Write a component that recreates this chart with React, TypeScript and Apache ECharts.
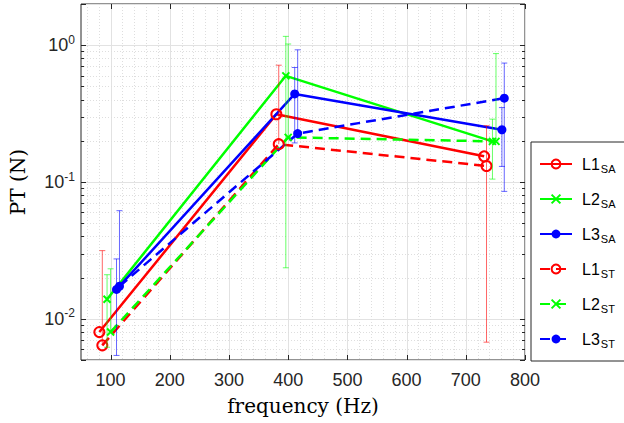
import React, { useEffect, useRef } from "react";
import * as echarts from "echarts";

// ---- axis extents and ticks ----
const xMin = 50;
const xMax = 800;
const xMajorTicks = [100, 200, 300, 400, 500, 600, 700, 800];
const xMinorTicks = [60, 80, 120, 140, 160, 180, 220, 240, 260, 280, 320, 340, 360, 380, 420, 440, 460, 480, 520, 540, 560, 580, 620, 640, 660, 680, 720, 740, 760, 780];
const yMin = 0.005;
const yMax = 2;
const yMinorTicks = [
  0.006, 0.007, 0.008, 0.009,
  0.02, 0.03, 0.04, 0.05, 0.06, 0.07, 0.08, 0.09,
  0.2, 0.3, 0.4, 0.5, 0.6, 0.7, 0.8, 0.9,
];

// ---- series ----
const seriesNames = ["L1SA", "L2SA", "L3SA", "L1ST", "L2ST", "L3ST"];
const legendMain = ["L1", "L2", "L3", "L1", "L2", "L3"];
const legendSub = ["SA", "SA", "SA", "ST", "ST", "ST"];

const freqL1SA = [81, 380, 731];
const ptL1SA = [0.008, 0.313, 0.154];
const freqL2SA = [94, 396, 745];
const ptL2SA = [0.0139, 0.597, 0.198];
const freqL3SA = [110, 411, 761];
const ptL3SA = [0.0164, 0.44, 0.241];
const freqL1ST = [86, 384, 735];
const ptL1ST = [0.0064, 0.189, 0.131];
const freqL2ST = [100, 400, 751];
const ptL2ST = [0.008, 0.212, 0.198];
const freqL3ST = [115, 416, 765];
const ptL3ST = [0.0173, 0.226, 0.41];

// error bar ends (null = not drawn on log axis)
const hiL2SA = [0.021, 1.16, 0.288];
const loL2SA = [0.0062, 0.0236, 0.105];
const hiL3SA = [0.0274, 0.687, 0.35];
const loL3SA = [0.0054, 0.193, 0.13];
const hiL1ST = [0.0315, 0.714, 0.258];
const loL1ST = [null, null, 0.00675];
const hiL2ST = [0.0232, 1.02, 0.868];
const loL2ST = [null, null, null];
const hiL3ST = [0.0617, 0.925, 0.74];
const loL3ST = [null, null, 0.0854];

const RED = "#ff0000";
const GREEN = "#00ff00";
const BLUE = "#0000ff";
const AXIS = "#262626";
const GRID_MAJOR = "#e2e2e2";
const GRID_MINOR = "#dedede";
const CROSS = "path://M0,0L10,10M10,0L0,10";

function pairs(xs: number[], ys: number[]) {
  return xs.map((x, i) => [x, ys[i]]);
}

function lineSeries(name: string, xs: number[], ys: number[], color: string, dashed: boolean, kind: number) {
  let symbol = "circle";
  let symbolSize = 10;
  let itemStyle: any = { color: "rgba(0,0,0,0)", borderColor: color, borderWidth: 2 };
  if (kind === 1) {
    symbol = CROSS;
    symbolSize = 7;
    itemStyle = { color: color, borderColor: color, borderWidth: 2 };
  } else if (kind === 2) {
    symbol = "circle";
    symbolSize = 9;
    itemStyle = { color: color, borderColor: color, borderWidth: 0 };
  }
  return {
    type: "line",
    name,
    data: pairs(xs, ys),
    symbol,
    symbolSize,
    showSymbol: true,
    itemStyle,
    lineStyle: { color, width: 2.5, type: dashed ? [10, 6] : "solid" },
    z: 2,
  };
}

function errorSeries(xs: number[], ys: number[], lo: (number | null)[], hi: (number | null)[], color: string) {
  const data = xs.map((x, i) => [x, ys[i], lo[i] == null ? ys[i] : lo[i], hi[i] == null ? ys[i] : hi[i]]);
  return {
    type: "custom",
    silent: true,
    z: 3,
    data,
    encode: { x: 0, y: [1, 2, 3] },
    renderItem: (params: any, api: any) => {
      const x = api.value(0);
      const c = api.value(1);
      const l = api.value(2);
      const h = api.value(3);
      const pc = api.coord([x, c]);
      const pl = api.coord([x, l]);
      const ph = api.coord([x, h]);
      const style = { stroke: color, lineWidth: 1, opacity: 0.6 };
      const children: any[] = [
        { type: "line", shape: { x1: pc[0], y1: pl[1], x2: pc[0], y2: ph[1] }, style },
      ];
      if (h > c) children.push({ type: "line", shape: { x1: pc[0] - 3, y1: ph[1], x2: pc[0] + 3, y2: ph[1] }, style });
      if (l < c) children.push({ type: "line", shape: { x1: pc[0] - 3, y1: pl[1], x2: pc[0] + 3, y2: pl[1] }, style });
      return { type: "group", children };
    },
  };
}

function yMinorSeries() {
  return {
    type: "custom",
    silent: true,
    z: 1,
    data: yMinorTicks.map((v) => [xMin, v]),
    renderItem: (params: any, api: any) => {
      const cs = params.coordSys;
      const y = Math.round(api.coord([xMin, api.value(1)])[1]) + 0.5;
      return {
        type: "group",
        children: [
          { type: "line", shape: { x1: cs.x, y1: y, x2: cs.x + cs.width, y2: y }, style: { stroke: GRID_MINOR, lineWidth: 1, lineDash: [1, 2] } },
          { type: "line", shape: { x1: cs.x, y1: y, x2: cs.x + 3, y2: y }, style: { stroke: AXIS, lineWidth: 1 } },
          { type: "line", shape: { x1: cs.x + cs.width - 3, y1: y, x2: cs.x + cs.width, y2: y }, style: { stroke: AXIS, lineWidth: 1 } },
        ],
      };
    },
  };
}

function xMinorSeries() {
  return {
    type: "custom",
    silent: true,
    z: 1,
    data: xMinorTicks.map((v) => [v, yMin]),
    renderItem: (params: any, api: any) => {
      const cs = params.coordSys;
      const x = Math.round(api.coord([api.value(0), yMin])[0]) + 0.5;
      return {
        type: "line",
        shape: { x1: x, y1: cs.y, x2: x, y2: cs.y + cs.height },
        style: { stroke: GRID_MINOR, lineWidth: 1, lineDash: [1, 2] },
      };
    },
  };
}

function xMajorSeries() {
  return {
    type: "custom",
    silent: true,
    z: 1,
    data: xMajorTicks.map((v) => [v, yMin]),
    renderItem: (params: any, api: any) => {
      const cs = params.coordSys;
      const x = Math.round(api.coord([api.value(0), yMin])[0]) + 0.5;
      const top = cs.y;
      const bottom = cs.y + cs.height;
      return {
        type: "group",
        children: [
          { type: "line", shape: { x1: x, y1: top, x2: x, y2: bottom }, style: { stroke: GRID_MAJOR, lineWidth: 1 } },
          { type: "line", shape: { x1: x, y1: bottom, x2: x, y2: bottom - 5 }, style: { stroke: AXIS, lineWidth: 1 } },
          { type: "line", shape: { x1: x, y1: top, x2: x, y2: top + 5 }, style: { stroke: AXIS, lineWidth: 1 } },
        ],
      };
    },
  };
}

const tickFont = "'Liberation Sans', Arial, sans-serif";
const labelFont = "'DejaVu Serif', serif";

export default function App() {
  const ref = useRef<HTMLDivElement>(null);
  useEffect(() => {
    if (!ref.current) return;
    const chart = echarts.init(ref.current, undefined, { renderer: "svg" });
    const isPow = (v: number) => {
      const e = Math.log10(v);
      return Math.abs(e - Math.round(e)) < 1e-6;
    };
    const option: any = {
      animation: false,
      backgroundColor: "#ffffff",
      grid: {
        left: 78,
        right: 99,
        top: 4,
        bottom: 63,
        show: true,
        borderColor: AXIS,
        borderWidth: 1,
        backgroundColor: "#ffffff",
      },
      xAxis: [
        {
          type: "value",
          min: xMin,
          max: xMax,
          interval: 50,
          position: "bottom",
          axisLine: { show: false },
          axisTick: { show: false },
          axisLabel: {
            fontFamily: tickFont,
            fontSize: 18,
            color: AXIS,
            margin: 11,
            formatter: (v: number) => (xMajorTicks.indexOf(v) >= 0 ? String(v) : ""),
          },
          splitLine: { show: false },
          name: "frequency (Hz)",
          nameLocation: "middle",
          nameGap: 36,
          nameTextStyle: { fontFamily: labelFont, fontSize: 20, color: "#000" },
        },
      ],
      yAxis: [
        {
          type: "log",
          logBase: 10,
          min: yMin,
          max: yMax,
          axisLine: { show: false },
          axisTick: { show: true, inside: true, length: 5, lineStyle: { color: AXIS } },
          axisLabel: {
            margin: 6,
            formatter: (v: number) => {
              if (!isPow(v)) return "";
              const e = Math.round(Math.log10(v));
              return "{b|10}{e|" + e + "}";
            },
            rich: {
              b: { fontFamily: tickFont, fontSize: 18, color: AXIS },
              e: { fontFamily: tickFont, fontSize: 12, color: AXIS, padding: [0, 0, 11, 0] },
            },
          },
          splitLine: { show: true, lineStyle: { color: GRID_MAJOR, width: 1 } },
          name: "PT (N)",
          nameLocation: "middle",
          nameGap: 53,
          nameRotate: 90,
          nameTextStyle: { fontFamily: labelFont, fontSize: 20, color: "#000" },
        },
        {
          type: "log",
          logBase: 10,
          min: yMin,
          max: yMax,
          position: "right",
          axisLine: { show: false },
          axisTick: { show: true, inside: true, length: 5, lineStyle: { color: AXIS } },
          axisLabel: { show: false },
          splitLine: { show: false },
        },
      ],
      legend: {
        data: seriesNames,
        orient: "vertical",
        left: 531,
        top: 142,
        padding: [14, 12, 12, 8],
        itemWidth: 32,
        itemHeight: 11,
        itemGap: 17,
        borderColor: AXIS,
        borderWidth: 1,
        borderRadius: 0,
        backgroundColor: "#ffffff",
        formatter: (name: string) => {
          const i = seriesNames.indexOf(name);
          return "{m|" + legendMain[i] + "}{s|" + legendSub[i] + "}";
        },
        textStyle: {
          rich: {
            m: { fontFamily: tickFont, fontSize: 16, color: "#000", padding: [0, 0, 0, 5] },
            s: { fontFamily: tickFont, fontSize: 11, color: "#000", padding: [9, 0, 0, 1] },
          },
        },
      },
      series: [
        xMajorSeries(),
        xMinorSeries(),
        yMinorSeries(),
        lineSeries("L1SA", freqL1SA, ptL1SA, RED, false, 0),
        lineSeries("L2SA", freqL2SA, ptL2SA, GREEN, false, 1),
        lineSeries("L3SA", freqL3SA, ptL3SA, BLUE, false, 2),
        lineSeries("L1ST", freqL1ST, ptL1ST, RED, true, 0),
        lineSeries("L2ST", freqL2ST, ptL2ST, GREEN, true, 1),
        lineSeries("L3ST", freqL3ST, ptL3ST, BLUE, true, 2),
        errorSeries(freqL2SA, ptL2SA, loL2SA, hiL2SA, GREEN),
        errorSeries(freqL3SA, ptL3SA, loL3SA, hiL3SA, BLUE),
        errorSeries(freqL1ST, ptL1ST, loL1ST, hiL1ST, RED),
        errorSeries(freqL2ST, ptL2ST, loL2ST, hiL2ST, GREEN),
        errorSeries(freqL3ST, ptL3ST, loL3ST, hiL3ST, BLUE),
      ],
    };
    chart.setOption(option);
    return () => chart.dispose();
  }, []);
  return (
    <div
      ref={ref}
      style={{ position: "fixed", left: 0, top: 0, width: 624, height: 423, background: "#fff" }}
    />
  );
}
